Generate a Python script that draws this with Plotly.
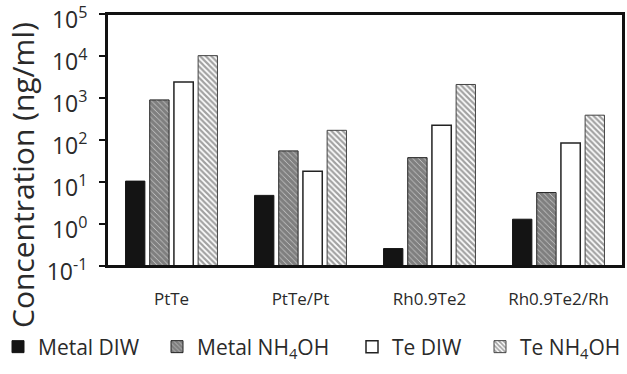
import plotly.graph_objects as go

categories = ["PtTe", "PtTe/Pt", "Rh0.9Te2", "Rh0.9Te2/Rh"]
metal_diw = [10.5, 4.8, 0.26, 1.3]
metal_nh4oh = [900, 55, 38, 5.6]
te_diw = [2400, 18, 225, 85]
te_nh4oh = [10200, 170, 2100, 390]

tick_vals = [0.1, 1, 10, 100, 1000, 10000, 100000]
tick_text = ["10<sup>-1</sup>", "10<sup>0</sup>", "10<sup>1</sup>", "10<sup>2</sup>",
             "10<sup>3</sup>", "10<sup>4</sup>", "10<sup>5</sup>"]

FONT = "Open Sans"
TXT = "#2a2a2a"
W, H = 627, 374
X0, X1, Y0, Y1 = 107, 623, 14, 266
L, T, R, B = X0, Y0, W - X1, H - Y1
PW = X1 - X0
PH = Y1 - Y0


def px_x(x):
    return (x - X0) / PW


def px_y(y):
    return (Y1 - y) / PH


fig = go.Figure()
fig.add_trace(go.Bar(name="Metal DIW", x=categories, y=metal_diw, legend="legend",
                     marker=dict(color="#141414", line=dict(color="#141414", width=1))))
fig.add_trace(go.Bar(name="Metal NH<sub>4</sub>OH", x=categories, y=metal_nh4oh, legend="legend2",
                     marker=dict(color="white",
                                 pattern=dict(shape="\\", fgcolor="#000000", bgcolor="white",
                                              size=4, solidity=0.9),
                                 line=dict(color="#222222", width=1))))
fig.add_trace(go.Bar(name="Te DIW", x=categories, y=te_diw, legend="legend3",
                     marker=dict(color="white", line=dict(color="#222222", width=1.5))))
fig.add_trace(go.Bar(name="Te NH<sub>4</sub>OH", x=categories, y=te_nh4oh, legend="legend4",
                     marker=dict(color="white",
                                 pattern=dict(shape="\\", fgcolor="#444444", bgcolor="white",
                                              size=4, solidity=0.55),
                                 line=dict(color="#444444", width=1))))

leg_common = dict(orientation="h", xanchor="left", yanchor="middle", y=px_y(347),
                  font=dict(family=FONT, size=21, color=TXT), itemwidth=30,
                  bgcolor="rgba(0,0,0,0)", borderwidth=0)

fig.update_layout(
    width=W, height=H,
    margin=dict(l=L, r=R, t=T, b=B, autoexpand=False),
    paper_bgcolor="white", plot_bgcolor="white",
    barmode="group", bargap=0.25, bargroupgap=0.2,
    font=dict(family=FONT, color=TXT),
    showlegend=True,
    legend=dict(leg_common, x=px_x(-2)),
    legend2=dict(leg_common, x=px_x(157)),
    legend3=dict(leg_common, x=px_x(352)),
    legend4=dict(leg_common, x=px_x(480)),
    xaxis=dict(showline=True, linecolor="#111111", linewidth=2, mirror=True,
               ticks="", tickfont=dict(family=FONT, size=17, color=TXT),
               ticklabelstandoff=17, automargin=False),
    yaxis=dict(type="log", range=[-1.0001, 5.0001], showline=True, linecolor="#111111", linewidth=2,
               mirror=True, showgrid=False, zeroline=False, automargin=False,
               ticks="outside", ticklen=6, tickcolor="#111111", tickwidth=1.5,
               tickvals=tick_vals, ticktext=tick_text, ticklabelstandoff=7,
               ticklabelshift=6, ticklabeloverflow="allow",
               tickfont=dict(family=FONT, size=23, color=TXT)),
    shapes=[dict(type="rect", xref="paper", yref="paper", x0=0, x1=1, y0=0, y1=1,
                 line=dict(color="#111111", width=2), fillcolor="rgba(0,0,0,0)", layer="above")],
    annotations=[dict(text="Concentration (ng/ml)", textangle=-90, xref="paper", yref="paper",
                      x=px_x(22), y=px_y(175), xanchor="center", yanchor="middle",
                      showarrow=False, font=dict(family=FONT, size=30, color=TXT))],
)

fig.write_html("out.html", config={"displayModeBar": False},
               post_script="document.body.style.margin='0';document.body.style.overflow='hidden';")
